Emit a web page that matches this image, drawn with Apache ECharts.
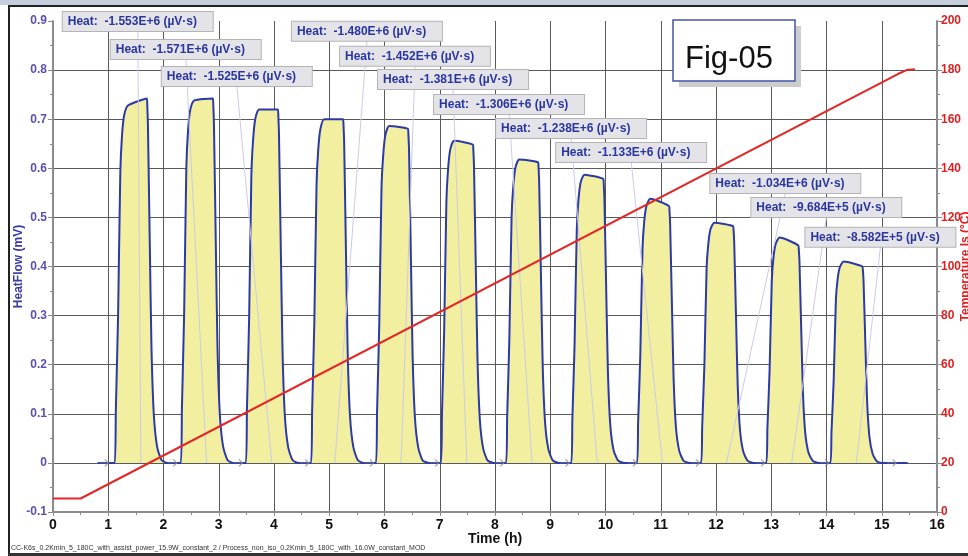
<!DOCTYPE html>
<html>
<head>
	<meta charset="utf-8">
	<title>Fig-05 HeatFlow</title>
    <script src="https://cdn.jsdelivr.net/npm/echarts@6/dist/echarts.min.js"></script>
    <style>
        html, body { margin: 0; padding: 0; background: #fff; }
    </style>
</head>
<body>
    <div id="main" style="width: 968px;height:556px;"></div>

	<script>
        // heat flow curve (time h, mV), one row per pulse
        var baseStart = [[0.81, 0], [1.05, 0]];
        var pulses = [
            [[1.118,0],[1.138,0.11],[1.178,0.30],[1.218,0.59],[1.248,0.665],[1.288,0.708],[1.358,0.728],[1.698,0.742],[1.706,0.73],[1.718,0.69],[1.752,0.445],[1.782,0.237],[1.824,0.10],[1.884,0.033],[1.963,0.006],[2.07,0]],
            [[2.313,0],[2.333,0.11],[2.373,0.30],[2.413,0.60],[2.443,0.675],[2.483,0.718],[2.553,0.738],[2.893,0.742],[2.901,0.73],[2.913,0.69],[2.947,0.445],[2.977,0.237],[3.019,0.10],[3.079,0.033],[3.158,0.006],[3.26,0]],
            [[3.49,0],[3.51,0.108],[3.55,0.295],[3.59,0.583],[3.62,0.655],[3.66,0.70],[3.73,0.72],[4.07,0.72],[4.078,0.708],[4.09,0.67],[4.124,0.432],[4.154,0.23],[4.196,0.097],[4.256,0.032],[4.335,0.006],[4.44,0]],
            [[4.67,0],[4.69,0.105],[4.73,0.287],[4.77,0.567],[4.80,0.637],[4.84,0.68],[4.91,0.70],[5.25,0.70],[5.258,0.688],[5.27,0.651],[5.304,0.42],[5.334,0.224],[5.376,0.095],[5.436,0.032],[5.515,0.006],[5.62,0]],
            [[5.845,0],[5.865,0.103],[5.905,0.281],[5.945,0.556],[5.975,0.624],[6.015,0.667],[6.085,0.686],[6.425,0.68],[6.433,0.668],[6.445,0.632],[6.479,0.41],[6.509,0.218],[6.551,0.092],[6.611,0.031],[6.69,0.005],[6.795,0]],
            [[7.02,0],[7.04,0.098],[7.08,0.269],[7.12,0.531],[7.15,0.597],[7.19,0.638],[7.26,0.656],[7.60,0.648],[7.608,0.637],[7.62,0.603],[7.654,0.39],[7.684,0.208],[7.726,0.088],[7.786,0.029],[7.865,0.005],[7.97,0]],
            [[8.20,0],[8.22,0.093],[8.26,0.253],[8.30,0.50],[8.33,0.562],[8.37,0.601],[8.44,0.618],[8.78,0.612],[8.788,0.602],[8.80,0.569],[8.834,0.368],[8.864,0.196],[8.906,0.083],[8.966,0.028],[9.045,0.005],[9.15,0]],
            [[9.38,0],[9.40,0.088],[9.44,0.24],[9.48,0.475],[9.51,0.534],[9.55,0.571],[9.62,0.587],[9.96,0.578],[9.968,0.568],[9.98,0.538],[10.014,0.347],[10.044,0.185],[10.086,0.078],[10.146,0.026],[10.225,0.005],[10.33,0]],
            [[10.57,0],[10.59,0.081],[10.63,0.22],[10.67,0.436],[10.70,0.49],[10.74,0.523],[10.81,0.538],[11.15,0.523],[11.158,0.514],[11.17,0.486],[11.204,0.314],[11.234,0.167],[11.276,0.071],[11.336,0.024],[11.415,0.004],[11.52,0]],
            [[11.73,0],[11.75,0.073],[11.79,0.20],[11.83,0.396],[11.86,0.445],[11.90,0.476],[11.97,0.489],[12.31,0.482],[12.318,0.474],[12.33,0.448],[12.364,0.289],[12.394,0.154],[12.436,0.065],[12.496,0.022],[12.575,0.004],[12.68,0]],
            [[12.91,0],[12.93,0.069],[12.97,0.188],[13.01,0.372],[13.04,0.418],[13.08,0.446],[13.15,0.459],[13.49,0.443],[13.498,0.435],[13.51,0.412],[13.544,0.266],[13.574,0.142],[13.616,0.06],[13.676,0.02],[13.755,0.004],[13.86,0]],
            [[14.07,0],[14.09,0.062],[14.13,0.168],[14.17,0.332],[14.20,0.373],[14.24,0.398],[14.31,0.41],[14.65,0.40],[14.658,0.393],[14.67,0.372],[14.704,0.24],[14.734,0.128],[14.776,0.054],[14.836,0.018],[14.915,0.003],[15.02,0]]
        ];
        var baseEnd = [[15.47, 0]];

        // temperature program (time h, degC)
        var tempCurve = [[0, 5.5], [0.5, 5.5], [15.3, 178.5], [15.45, 180], [15.6, 180.3]];

        // integration markers on the baseline (time h)
        var markerTimes = [0.92, 2.16, 3.35, 4.55, 5.72, 6.9, 8.08, 9.26, 10.48, 11.62, 12.8, 13.96, 15.18];

        // peak integrals
        var heatTexts = [
            'Heat:  -1.553E+6 (µV·s)', 'Heat:  -1.571E+6 (µV·s)', 'Heat:  -1.525E+6 (µV·s)',
            'Heat:  -1.480E+6 (µV·s)', 'Heat:  -1.452E+6 (µV·s)', 'Heat:  -1.381E+6 (µV·s)',
            'Heat:  -1.306E+6 (µV·s)', 'Heat:  -1.238E+6 (µV·s)', 'Heat:  -1.133E+6 (µV·s)',
            'Heat:  -1.034E+6 (µV·s)', 'Heat:  -9.684E+5 (µV·s)', 'Heat:  -8.582E+5 (µV·s)'
        ];
        // label box anchors (left-middle) and leader lines, in axis units
        var labelPos = [[0.176,0.899],[1.045,0.842],[1.969,0.787],[4.324,0.879],[5.194,0.828],[5.882,0.781],
                        [6.897,0.730],[8.02,0.681],[9.107,0.632],[11.897,0.569],[12.64,0.520],[13.618,0.4595]];
        var leaderFrom = [[1.535,0.880],[2.404,0.823],[3.328,0.768],[5.683,0.860],[6.553,0.809],[7.241,0.762],
                          [8.256,0.711],[9.379,0.662],[10.466,0.613],[13.256,0.550],[13.999,0.501],[14.977,0.440]];
        var leaderTo = [1.59, 2.78, 3.96, 5.10, 6.30, 7.49, 8.67, 9.85, 11.03, 12.19, 13.37, 14.54];

        var FONT = '"Liberation Sans", Arial, sans-serif';

        var heatData = baseStart.slice();
        pulses.forEach(function (p) { heatData = heatData.concat(p); });
        heatData = heatData.concat(baseEnd);

		var myChart = echarts.init(document.getElementById('main'));

		myChart.setOption({
            animation: false,
            textStyle: { fontFamily: FONT },
            grid: { left: 53, right: 31, top: 21, bottom: 44, outerBoundsMode: 'none', containLabel: false },
            xAxis: {
                type: 'value', min: 0, max: 16, interval: 1,
                name: 'Time (h)', nameLocation: 'middle', nameGap: 20, nameMoveOverlap: false,
                nameTextStyle: { fontWeight: 'bold', fontSize: 14, color: '#111' },
                axisLine: { onZero: false, lineStyle: { color: '#8c8c8c', width: 2 } },
                axisTick: { length: 4, lineStyle: { color: '#8c8c8c' } },
                minorTick: { show: true, splitNumber: 2, length: 3, lineStyle: { color: '#8c8c8c' } },
                axisLabel: { fontWeight: 'bold', fontSize: 14, color: '#111', margin: 6 },
                splitLine: { show: true, showMinLine: false, showMaxLine: false, lineStyle: { color: '#5a5a5a', width: 1 } }
            },
            yAxis: [{
                type: 'value', min: -0.1, max: 0.9, interval: 0.1,
                name: 'HeatFlow (mV)', nameLocation: 'middle', nameGap: 28, nameMoveOverlap: false,
                nameTextStyle: { fontWeight: 'bold', fontSize: 12, color: '#3a3aa8' },
                axisLine: { show: true, onZero: false, lineStyle: { color: '#8c8c8c', width: 2 } },
                axisTick: { show: true, length: 5, lineStyle: { color: '#8c8c8c' } },
                minorTick: { show: true, splitNumber: 2, length: 3, lineStyle: { color: '#8c8c8c' } },
                axisLabel: { fontWeight: 'bold', fontSize: 12, color: '#5a50b0', margin: 6 },
                splitLine: { show: true, showMinLine: false, showMaxLine: false, lineStyle: { color: '#5a5a5a', width: 1 } }
            }, {
                type: 'value', min: 0, max: 200, interval: 20, position: 'right',
                name: 'Temperature Is (°C)', nameLocation: 'middle', nameGap: 23, nameMoveOverlap: false,
                nameTextStyle: { fontWeight: 'bold', fontSize: 12, color: '#e02020' },
                axisLine: { show: true, onZero: false, lineStyle: { color: '#8c8c8c', width: 2 } },
                axisTick: { show: true, length: 5, lineStyle: { color: '#8c8c8c' } },
                minorTick: { show: true, splitNumber: 2, length: 3, lineStyle: { color: '#8c8c8c' } },
                axisLabel: { fontWeight: 'bold', fontSize: 12, color: '#e02020', margin: 4 },
                splitLine: { show: false }
            }],
            series: [{
                name: 'HeatFlow',
                type: 'line',
                data: heatData,
                showSymbol: false,
                smooth: 0.2,
                z: 3,
                lineStyle: { color: '#2b3aa8', width: 2 },
                itemStyle: { color: '#2b3aa8' },
                areaStyle: { color: '#f2efa0', opacity: 1 },
                markLine: {
                    silent: true, symbol: 'none',
                    label: { show: false },
                    lineStyle: { color: '#cdcae6', width: 1, type: 'solid' },
                    data: leaderFrom.map(function (p, i) {
                        return [{ coord: p }, { coord: [leaderTo[i], 0] }];
                    })
                }
            }, {
                name: 'Markers',
                type: 'scatter',
                data: markerTimes.map(function (t) { return [t, 0]; }),
                symbol: 'path://M0,4 L10,4 M6,0 L10,4 L6,8',
                symbolSize: [9, 7],
                z: 4,
                itemStyle: { color: 'none', borderColor: '#8a8a8a', borderWidth: 1 }
            }, {
                name: 'Temperature',
                type: 'line',
                yAxisIndex: 1,
                data: tempCurve,
                showSymbol: false,
                z: 5,
                lineStyle: { color: '#e32626', width: 2 }
            }, {
                name: 'Labels',
                type: 'line',
                data: [],
                z: 10,
                markPoint: {
                    symbol: 'rect', symbolSize: 0,
                    label: {
                        show: true, position: 'right', distance: 0,
                        formatter: function (p) { return p.name; },
                        backgroundColor: '#e4e4e8', borderColor: '#b4b4b8', borderWidth: 1,
                        padding: [3, 5], width: 140, lineHeight: 13,
                        color: '#2a36a0', fontWeight: 'bold', fontSize: 12
                    },
                    data: heatTexts.map(function (txt, i) {
                        return { name: txt, coord: labelPos[i] };
                    })
                }
            }],
            graphic: [
                { type: 'rect', shape: { x: 0, y: 0, width: 968, height: 5 }, style: { fill: '#c5cedc' }, silent: true },
                { type: 'rect', shape: { x: 8, y: 5, width: 960, height: 2 }, style: { fill: '#222' }, silent: true },
                { type: 'rect', shape: { x: 8, y: 5, width: 2, height: 551 }, style: { fill: '#222' }, silent: true },
                { type: 'rect', shape: { x: 8, y: 553, width: 960, height: 3 }, style: { fill: '#333' }, silent: true },
                { type: 'rect', shape: { x: 679, y: 26, width: 122, height: 61 }, style: { fill: '#cdcdcd' }, z: 50 },
                { type: 'rect', shape: { x: 673, y: 20, width: 122, height: 61 }, style: { fill: '#fff', stroke: '#4656a8', lineWidth: 1.5 }, z: 51 },
                { type: 'text', x: 685, y: 59, style: { text: 'Fig-05', font: '31px ' + FONT, fill: '#111', verticalAlign: 'middle' }, z: 52 },
                { type: 'text', x: 11, y: 545, style: { text: 'CC-K6s_0.2Kmin_5_180C_with_assist_power_15.9W_constant_2 / Process_non_iso_0.2Kmin_5_180C_with_16.0W_constant_MOD', font: '7px "Liberation Sans Narrow", "Liberation Sans", sans-serif', fill: '#333' } }
            ]
        });
	</script>

</body>
</html>
